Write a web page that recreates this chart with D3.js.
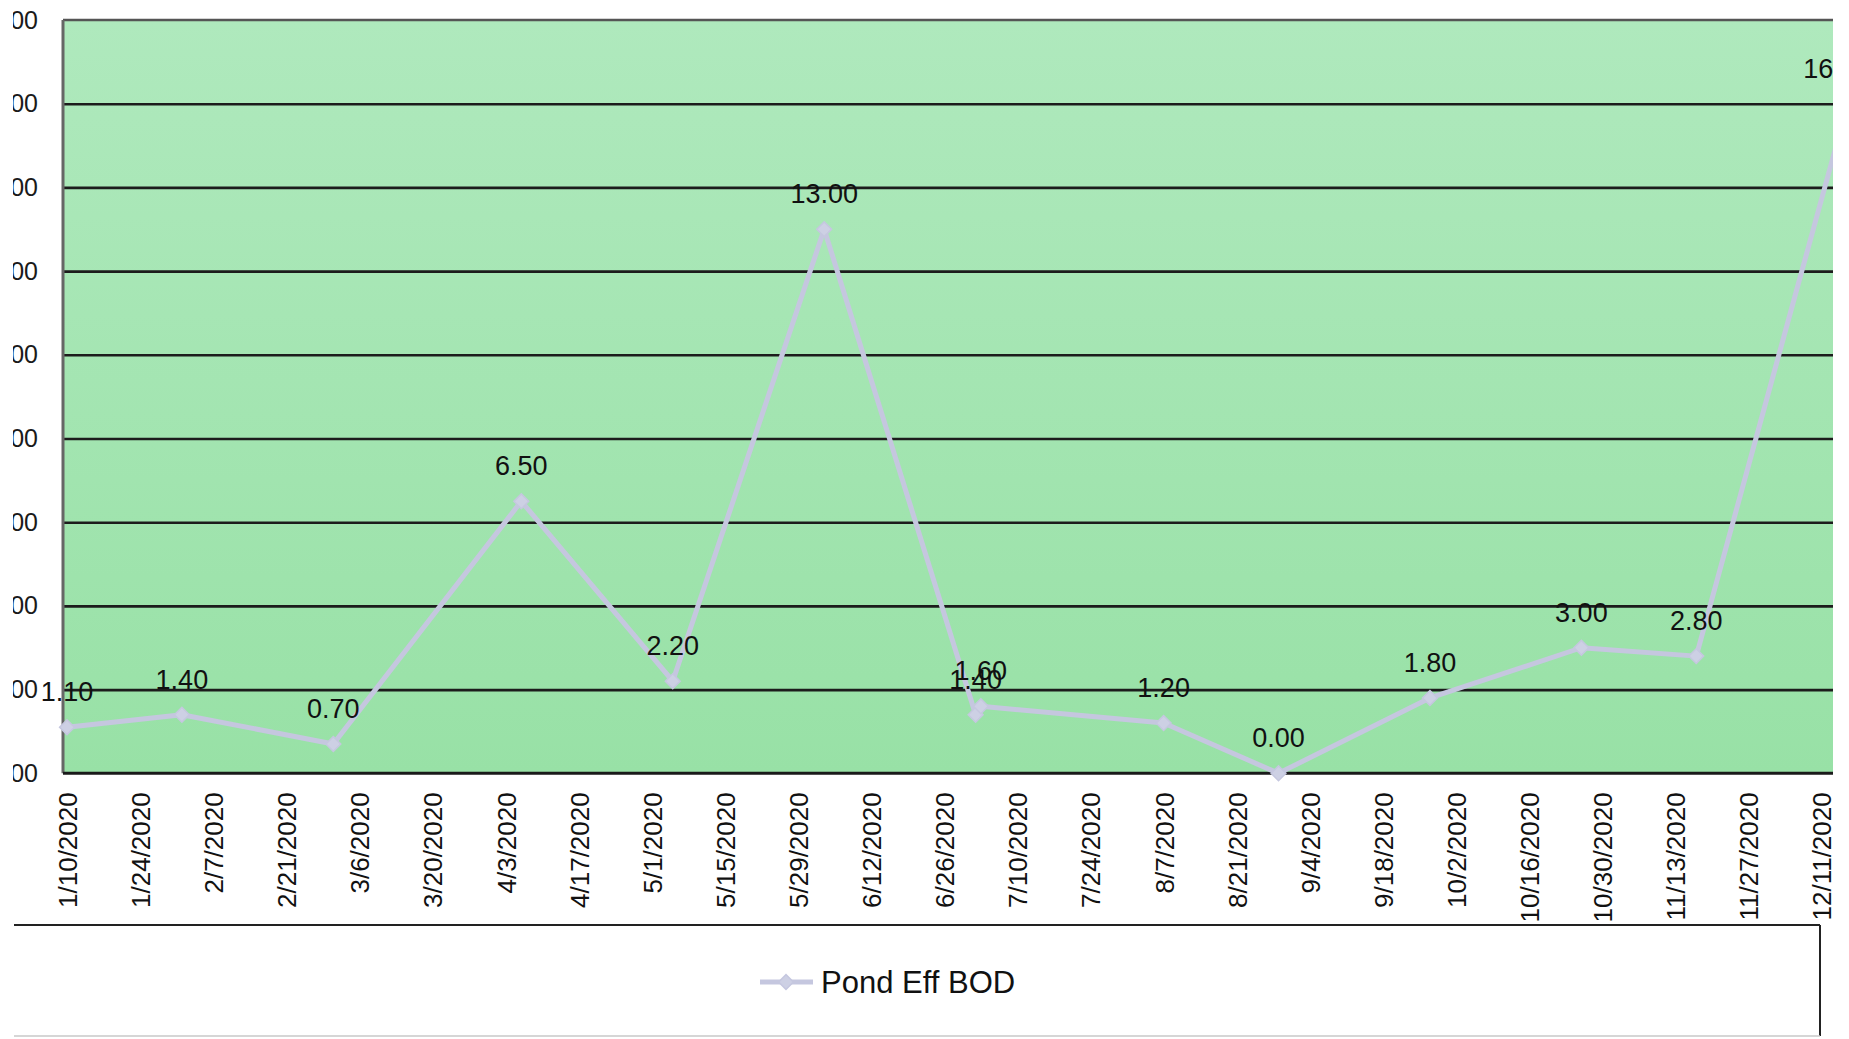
<!DOCTYPE html>
<html>
<head>
<meta charset="utf-8">
<script src="https://cdn.jsdelivr.net/npm/d3@7"></script>
<style>
  body { margin: 0; background: #fff; }
  svg { display: block; font-family: "Liberation Sans", Arial, sans-serif; }
</style>
</head>
<body>
<svg id="chart" width="1849" height="1039"></svg>
<script>
// Pond effluent BOD sampling results, 2020
const seriesName = "Pond Eff BOD";
const sampleDates = ["1/10/2020", "2/1/2020", "3/1/2020", "4/6/2020", "5/5/2020", "6/3/2020",
                     "7/2/2020", "7/3/2020", "8/7/2020", "8/29/2020", "9/27/2020", "10/26/2020",
                     "11/17/2020", "12/16/2020"];
const bodValues   = [1.10, 1.40, 0.70, 6.50, 2.20, 13.00, 1.40, 1.60, 1.20, 0.00, 1.80, 3.00, 2.80, 16.00];

// Axis ticks
const xTickLabels = ["1/10/2020", "1/24/2020", "2/7/2020", "2/21/2020", "3/6/2020", "3/20/2020",
                     "4/3/2020", "4/17/2020", "5/1/2020", "5/15/2020", "5/29/2020", "6/12/2020",
                     "6/26/2020", "7/10/2020", "7/24/2020", "8/7/2020", "8/21/2020", "9/4/2020",
                     "9/18/2020", "10/2/2020", "10/16/2020", "10/30/2020", "11/13/2020",
                     "11/27/2020", "12/11/2020"];
const yTickValues = [0, 2, 4, 6, 8, 10, 12, 14, 16, 18];

const parse = d3.timeParse("%m/%d/%Y");
const points = sampleDates.map((d, i) => ({ date: parse(d), value: bodValues[i] }));
const xTicks = xTickLabels.map(parse);

const svg = d3.select("#chart");
const W = 1849, H = 1039;

// plot frame
const plot = { left: 63, right: 1833, top: 20, bottom: 773.3 };

const x = d3.scaleTime()
  .domain([xTicks[0], xTicks[xTicks.length - 1]])
  .range([67, 1821.6]);
const y = d3.scaleLinear()
  .domain([0, 18])
  .range([plot.bottom, plot.top]);

const defs = svg.append("defs");
const grad = defs.append("linearGradient").attr("id", "plotFill")
  .attr("x1", 0).attr("y1", 0).attr("x2", 0).attr("y2", 1);
grad.append("stop").attr("offset", "0%").attr("stop-color", "#afe9bd");
grad.append("stop").attr("offset", "100%").attr("stop-color", "#98e1a6");

defs.append("clipPath").attr("id", "pageClip")
  .append("rect").attr("x", 13).attr("y", 0).attr("width", plot.right - 13).attr("height", H);

const g = svg.append("g").attr("clip-path", "url(#pageClip)");

// plot background
g.append("rect")
  .attr("x", plot.left).attr("y", plot.top)
  .attr("width", plot.right - plot.left).attr("height", plot.bottom - plot.top)
  .attr("fill", "url(#plotFill)");

// horizontal gridlines
g.append("g")
  .attr("transform", `translate(${plot.left},0)`)
  .call(d3.axisLeft(y).tickValues(yTickValues.slice(1, -1))
    .tickSize(-(plot.right - plot.left)).tickFormat(""))
  .call(a => a.select(".domain").remove())
  .call(a => a.selectAll("line").attr("stroke", "#1c1c1c").attr("stroke-width", 2.6));

// top and left frame edges
g.append("line")
  .attr("x1", plot.left).attr("x2", plot.right)
  .attr("y1", y(18)).attr("y2", y(18))
  .attr("stroke", "#555").attr("stroke-width", 2.6);
g.append("line")
  .attr("x1", plot.left).attr("x2", plot.left)
  .attr("y1", plot.top).attr("y2", plot.bottom)
  .attr("stroke", "#666").attr("stroke-width", 3);

// y axis labels
g.append("g")
  .attr("transform", `translate(${plot.left},0)`)
  .call(d3.axisLeft(y).tickValues(yTickValues).tickSize(0).tickPadding(25)
    .tickFormat(d3.format(".2f")))
  .call(a => a.select(".domain").remove())
  .call(a => a.selectAll("text")
    .attr("fill", "#1a1a1a").style("font-size", "25px")
    .style("font-family", "'Liberation Sans', Arial, sans-serif"));

// x axis (baseline + rotated date labels)
g.append("g")
  .attr("transform", `translate(0,${plot.bottom})`)
  .call(d3.axisBottom(x).tickValues(xTicks).tickSize(0)
    .tickFormat((d, i) => xTickLabels[i]))
  .call(a => a.select(".domain").attr("stroke", "#1a1a1a").attr("stroke-width", 3)
    .attr("d", `M${plot.left},0H${plot.right}`))
  .call(a => a.selectAll("text")
    .attr("x", -19).attr("y", 0).attr("dy", "0.36em")
    .attr("transform", "rotate(-90)")
    .style("text-anchor", "end")
    .style("font-size", "26px")
    .style("font-family", "'Liberation Sans', Arial, sans-serif")
    .attr("fill", "#111"));

// series line
const lineColor = "#c5c7df";
const line = d3.line().x(d => x(d.date)).y(d => y(d.value));
g.append("path")
  .datum(points)
  .attr("d", line)
  .attr("fill", "none")
  .attr("stroke", lineColor)
  .attr("stroke-width", 5)
  .attr("stroke-linejoin", "round");

// diamond markers
const diamond = d3.symbol(d3.symbolSquare, 110);
g.append("g").selectAll("path")
  .data(points)
  .join("path")
  .attr("d", diamond)
  .attr("transform", d => `translate(${x(d.date)},${y(d.value)}) rotate(45)`)
  .attr("fill", "#cdd0e4")
  .attr("stroke", lineColor)
  .attr("stroke-width", 1.5);

// value labels above each point (held near the plot edge when the point runs past it)
g.append("g").selectAll("text")
  .data(points)
  .join("text")
  .attr("x", d => Math.min(x(d.date), plot.right + 4))
  .attr("y", d => y(d.value) - 26)
  .attr("text-anchor", "middle")
  .style("font-size", "27px")
  .attr("fill", "#111")
  .text(d => d3.format(".2f")(d.value));

// legend box
const legend = g.append("g");
legend.append("line")
  .attr("x1", 14).attr("x2", 1820).attr("y1", 925).attr("y2", 925)
  .attr("stroke", "#222").attr("stroke-width", 2);
legend.append("line")
  .attr("x1", 1820).attr("x2", 1820).attr("y1", 925).attr("y2", 1036)
  .attr("stroke", "#222").attr("stroke-width", 2);
legend.append("line")
  .attr("x1", 14).attr("x2", 1820).attr("y1", 1036).attr("y2", 1036)
  .attr("stroke", "#c8c8c8").attr("stroke-width", 1.5);

legend.append("line")
  .attr("x1", 760).attr("x2", 813).attr("y1", 982).attr("y2", 982)
  .attr("stroke", lineColor).attr("stroke-width", 5);
legend.append("path")
  .attr("d", diamond)
  .attr("transform", "translate(786,982) rotate(45)")
  .attr("fill", "#cdd0e4").attr("stroke", lineColor).attr("stroke-width", 1.5);
legend.append("text")
  .attr("x", 821).attr("y", 982).attr("dy", "0.36em")
  .style("font-size", "31px")
  .attr("fill", "#111")
  .text(seriesName);
</script>
</body>
</html>
